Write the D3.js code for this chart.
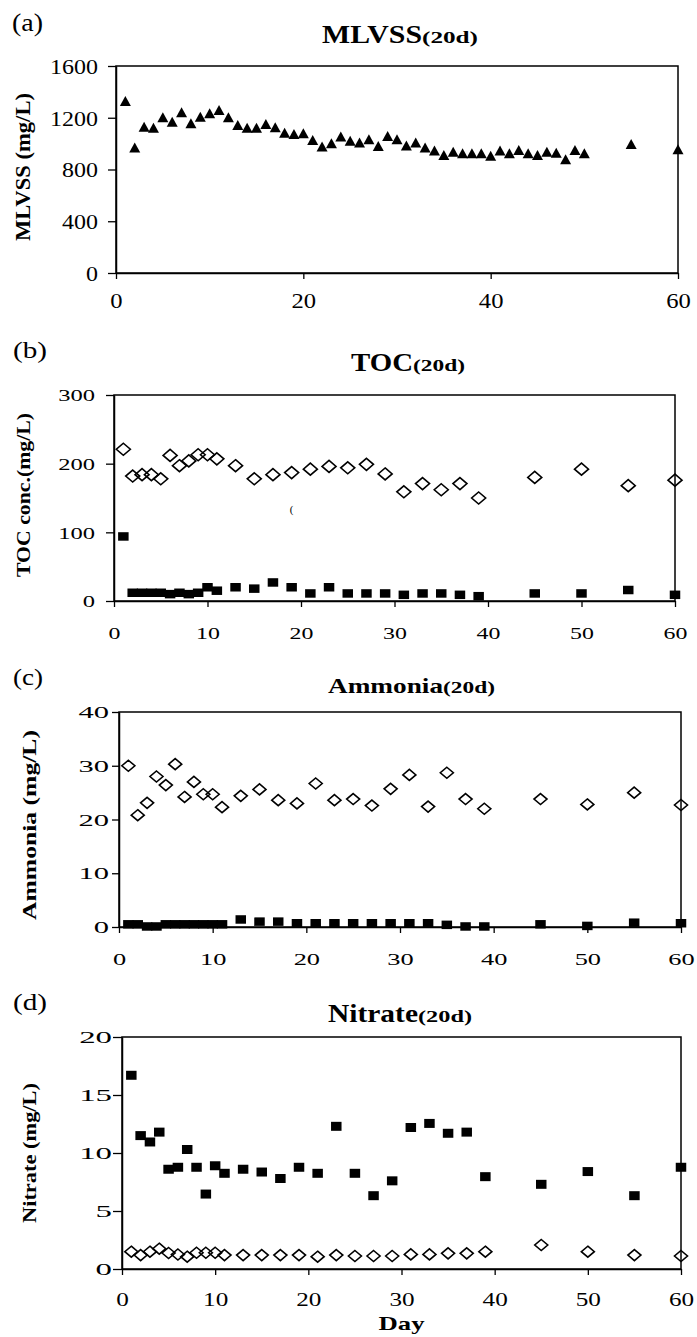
<!DOCTYPE html>
<html>
<head>
<meta charset="utf-8">
<script src="https://cdn.jsdelivr.net/npm/d3@7"></script>
<style>
  html, body { margin: 0; padding: 0; background: #fff; }
  svg { display: block; font-family: "Liberation Serif", "Times New Roman", serif; }
</style>
</head>
<body>
<svg id="chart" width="697" height="1337"></svg>
<script>
// ---- MLVSS, measured daily ----
const mlvssDays = [1, 2, 3, 4, 5, 6, 7, 8, 9, 10, 11, 12, 13, 14, 15, 16, 17, 18, 19, 20,
  21, 22, 23, 24, 25, 26, 27, 28, 29, 30, 31, 32, 33, 34, 35, 36, 37, 38, 39, 40,
  41, 42, 43, 44, 45, 46, 47, 48, 49, 50, 55, 60];
const mlvssValues = [1330, 971, 1131, 1123, 1203, 1170, 1242, 1157, 1208, 1234,
  1260, 1203, 1144, 1123, 1123, 1152, 1126, 1085, 1075, 1080,
  1028, 977, 1002, 1056, 1023, 1008, 1034, 982, 1059, 1034,
  985, 1008, 970, 946, 912, 938, 925, 925, 925, 907,
  946, 925, 951, 925, 912, 938, 930, 879, 951, 925, 997, 956];

// ---- Water quality sampling days ----
const sampleDays = [1, 2, 3, 4, 5, 6, 7, 8, 9, 10, 11, 13, 15, 17, 19, 21, 23, 25, 27, 29,
  31, 33, 35, 37, 39, 45, 50, 55, 60];

// TOC (mg/L): open diamonds = influent, filled squares = effluent
const tocInfluent = [221, 182, 184, 184, 178, 212, 197, 204, 213, 213, 207, 197, 178, 184, 187,
  192, 196, 194, 199, 185, 159, 171, 162, 171, 150, 180, 192, 168, 176];
const tocEffluent = [94, 12, 12, 12, 12, 10, 12, 10, 12, 20, 15, 20, 18, 27, 20,
  11, 20, 11, 11, 11, 9, 11, 11, 9, 7, 11, 11, 16, 9];

// Ammonia (mg/L)
const ammoniaInfluent = [30, 20.8, 23.1, 28, 26.4, 30.3, 24.2, 27, 24.7, 24.7, 22.3, 24.4, 25.6, 23.6, 23,
  26.7, 23.6, 23.8, 22.6, 25.7, 28.3, 22.4, 28.7, 23.8, 22, 23.8, 22.8, 25, 22.7];
const ammoniaEffluent = [0.5, 0.5, 0.1, 0.1, 0.5, 0.5, 0.5, 0.5, 0.5, 0.5, 0.5, 1.4, 1.0, 1.0, 0.7,
  0.7, 0.7, 0.7, 0.7, 0.7, 0.7, 0.7, 0.4, 0.1, 0.1, 0.5, 0.2, 0.8, 0.7];

// Nitrate (mg/L)
const nitrateInfluent = [1.49, 1.2, 1.49, 1.75, 1.38, 1.25, 1.06, 1.4, 1.4, 1.4, 1.2, 1.2, 1.2, 1.2, 1.2,
  1.06, 1.2, 1.12, 1.12, 1.12, 1.26, 1.26, 1.35, 1.35, 1.49, 2.07, 1.49, 1.2, 1.12];
const nitrateEffluent = [16.7, 11.5, 10.95, 11.8, 8.6, 8.77, 10.3, 8.77, 6.46, 8.9, 8.25, 8.6, 8.36, 7.8, 8.77,
  8.25, 12.3, 8.25, 6.32, 7.6, 12.2, 12.55, 11.7, 11.8, 7.96, 7.3, 8.4, 6.32, 8.77];

// ---- Tick values and labels ----
const dayTicksCoarse = [0, 20, 40, 60];
const dayTicksFine = [0, 10, 20, 30, 40, 50, 60];
const mlvssTicks = [0, 400, 800, 1200, 1600];
const tocTicks = [0, 100, 200, 300];
const ammoniaTicks = [0, 10, 20, 30, 40];
const nitrateTicks = [0, 5, 10, 15, 20];

const panelLetters = ["(a)", "(b)", "(c)", "(d)"];
const panelTitles = ["MLVSS", "TOC", "Ammonia", "Nitrate"];
const titleSuffix = "(20d)";
const yTitles = ["MLVSS (mg/L)", "TOC conc.(mg/L)", "Ammonia (mg/L)", "Nitrate (mg/L)"];
const xTitle = "Day";

// ---- Marker shapes (width x height boxes centred on the point) ----
const shape = {
  triangle: (w, h) => ({ draw(c) { c.moveTo(0, -h / 2); c.lineTo(w / 2, h / 2); c.lineTo(-w / 2, h / 2); c.closePath(); } }),
  diamond: (w, h) => ({ draw(c) { c.moveTo(0, -h / 2); c.lineTo(w / 2, 0); c.lineTo(0, h / 2); c.lineTo(-w / 2, 0); c.closePath(); } }),
  square: (w, h) => ({ draw(c) { c.rect(-w / 2, -h / 2, w, h); } })
};

// ---- Panel geometry ----
const panels = [
  {
    box: { left: 116, right: 678, top: 66, bottom: 273 }, yMax: 1600,
    xTicks: dayTicksCoarse, yTicks: mlvssTicks,
    yAxis: { font: 22, sx: 1.09, off: 18, size: 8 },
    xAxis: { font: 22, sx: 1.12, base: 35, size: 6 },
    title: { x: 322, base: 43, font: 25, len: 100, subFont: 16, subLen: 56 },
    letter: { x: 12, base: 31, font: 25, len: 31 },
    yTitle: { x: 30, cy: 167, font: 20, len: 148 },
    series: [
      { days: mlvssDays, values: mlvssValues, type: shape.triangle(11, 10), fill: "#000", stroke: "none" }
    ]
  },
  {
    box: { left: 114, right: 675, top: 395, bottom: 601 }, yMax: 300,
    xTicks: dayTicksFine, yTicks: tocTicks,
    yAxis: { font: 17.3, sx: 1.42, off: 19, size: 8 },
    xAxis: { font: 17.3, sx: 1.38, base: 38, size: 6 },
    title: { x: 351, base: 371, font: 26, len: 62, subFont: 16, subLen: 52 },
    letter: { x: 13, base: 358, font: 23, len: 34 },
    yTitle: { x: 30, cy: 495, font: 18, len: 164 },
    series: [
      { days: sampleDays, values: tocEffluent, type: shape.square(10.5, 8.5), fill: "#000", stroke: "none" },
      { days: sampleDays, values: tocInfluent, type: shape.diamond(14, 12), fill: "none", stroke: "#000" }
    ]
  },
  {
    box: { left: 119, right: 681, top: 712, bottom: 927 }, yMax: 40,
    xTicks: dayTicksFine, yTicks: ammoniaTicks,
    yAxis: { font: 16.5, sx: 1.85, off: 10, size: 7 },
    xAxis: { font: 16.5, sx: 1.6, base: 38, size: 6 },
    title: { x: 328, base: 693, font: 22, len: 115, subFont: 16, subLen: 52 },
    letter: { x: 13, base: 685, font: 23, len: 30 },
    yTitle: { x: 36, cy: 825, font: 18, len: 190 },
    series: [
      { days: sampleDays, values: ammoniaEffluent, type: shape.square(10.5, 8.5), fill: "#000", stroke: "none" },
      { days: sampleDays, values: ammoniaInfluent, type: shape.diamond(13, 11), fill: "none", stroke: "#000" }
    ]
  },
  {
    box: { left: 122, right: 681, top: 1037, bottom: 1269 }, yMax: 20,
    xTicks: dayTicksFine, yTicks: nitrateTicks,
    yAxis: { font: 17.3, sx: 1.9, off: 10, size: 9 },
    xAxis: { font: 18, sx: 1.4, base: 37, size: 6 },
    title: { x: 328, base: 1022, font: 25, len: 90, subFont: 16, subLen: 54 },
    letter: { x: 13, base: 1010, font: 23, len: 34 },
    yTitle: { x: 36, cy: 1153, font: 18, len: 140 },
    series: [
      { days: sampleDays, values: nitrateEffluent, type: shape.square(10.5, 9), fill: "#000", stroke: "none" },
      { days: sampleDays, values: nitrateInfluent, type: shape.diamond(13, 11), fill: "none", stroke: "#000" }
    ]
  }
];

const svg = d3.select("#chart");

panels.forEach((p, i) => {
  const b = p.box;
  const x = d3.scaleLinear().domain([0, 60]).range([b.left, b.right]);
  const y = d3.scaleLinear().domain([0, p.yMax]).range([b.bottom, b.top]);
  const g = svg.append("g");

  // plot frame
  g.append("rect")
    .attr("x", b.left).attr("y", b.top)
    .attr("width", b.right - b.left).attr("height", b.bottom - b.top)
    .attr("fill", "none").attr("stroke", "#000").attr("stroke-width", 1.5);

  // y axis
  const ya = g.append("g")
    .attr("transform", `translate(${b.left},0)`)
    .call(d3.axisLeft(y).tickValues(p.yTicks).tickSize(p.yAxis.size).tickSizeOuter(0).tickFormat(d3.format("d")));
  ya.select(".domain").attr("stroke", "#000").attr("stroke-width", 1.5);
  ya.selectAll(".tick line").attr("stroke", "#000").attr("stroke-width", 1.3);
  ya.selectAll(".tick text")
    .attr("x", null).attr("dy", "0.34em")
    .attr("transform", `translate(${-p.yAxis.off},0) scale(${p.yAxis.sx},1)`)
    .attr("fill", "#000")
    .style("font-family", "Liberation Serif, serif")
    .style("font-size", p.yAxis.font + "px");

  // x axis
  const xa = g.append("g")
    .attr("transform", `translate(0,${b.bottom})`)
    .call(d3.axisBottom(x).tickValues(p.xTicks).tickSize(p.xAxis.size).tickSizeOuter(0).tickFormat(d3.format("d")));
  xa.select(".domain").attr("stroke", "#000").attr("stroke-width", 1.5);
  xa.selectAll(".tick line").attr("stroke", "#000").attr("stroke-width", 1.3);
  xa.selectAll(".tick text")
    .attr("y", p.xAxis.base).attr("dy", null)
    .attr("transform", `scale(${p.xAxis.sx},1)`)
    .attr("fill", "#000")
    .style("font-family", "Liberation Serif, serif")
    .style("font-size", p.xAxis.font + "px");

  // panel letter
  g.append("text")
    .attr("x", p.letter.x).attr("y", p.letter.base)
    .attr("textLength", p.letter.len).attr("lengthAdjust", "spacingAndGlyphs")
    .style("font-size", p.letter.font + "px")
    .text(panelLetters[i]);

  // title: name followed by the smaller retention-time tag
  g.append("text")
    .attr("x", p.title.x).attr("y", p.title.base)
    .attr("textLength", p.title.len).attr("lengthAdjust", "spacingAndGlyphs")
    .style("font-size", p.title.font + "px").style("font-weight", "bold")
    .text(panelTitles[i]);
  g.append("text")
    .attr("x", p.title.x + p.title.len).attr("y", p.title.base)
    .attr("textLength", p.title.subLen).attr("lengthAdjust", "spacingAndGlyphs")
    .style("font-size", p.title.subFont + "px").style("font-weight", "bold")
    .text(titleSuffix);

  // y axis title
  g.append("text")
    .attr("transform", `translate(${p.yTitle.x},${p.yTitle.cy}) rotate(-90)`)
    .attr("text-anchor", "middle")
    .attr("textLength", p.yTitle.len).attr("lengthAdjust", "spacingAndGlyphs")
    .style("font-size", p.yTitle.font + "px").style("font-weight", "bold")
    .text(yTitles[i]);

  // data markers
  p.series.forEach(s => {
    const pts = s.days.map((d, k) => [d, s.values[k]]);
    g.append("g").selectAll("path").data(pts).join("path")
      .attr("transform", d => `translate(${x(d[0])},${y(d[1])})`)
      .attr("d", d3.symbol().type(s.type))
      .attr("fill", s.fill)
      .attr("stroke", s.stroke)
      .attr("stroke-width", s.stroke === "none" ? null : 1.6)
      .attr("stroke-linejoin", "miter");
  });

  if (i === 1) {
    // stray parenthesis inside the TOC plot area
    g.append("text")
      .attr("x", x(19)).attr("y", y(128))
      .attr("text-anchor", "middle")
      .attr("fill", "#000")
      .style("font-size", "11px")
      .text("(");
  }

  if (i === 3) {
    g.append("text")
      .attr("x", (b.left + b.right) / 2).attr("y", 1330)
      .attr("text-anchor", "middle")
      .attr("textLength", 46).attr("lengthAdjust", "spacingAndGlyphs")
      .style("font-size", "19px").style("font-weight", "bold")
      .text(xTitle);
  }
});
</script>
</body>
</html>
